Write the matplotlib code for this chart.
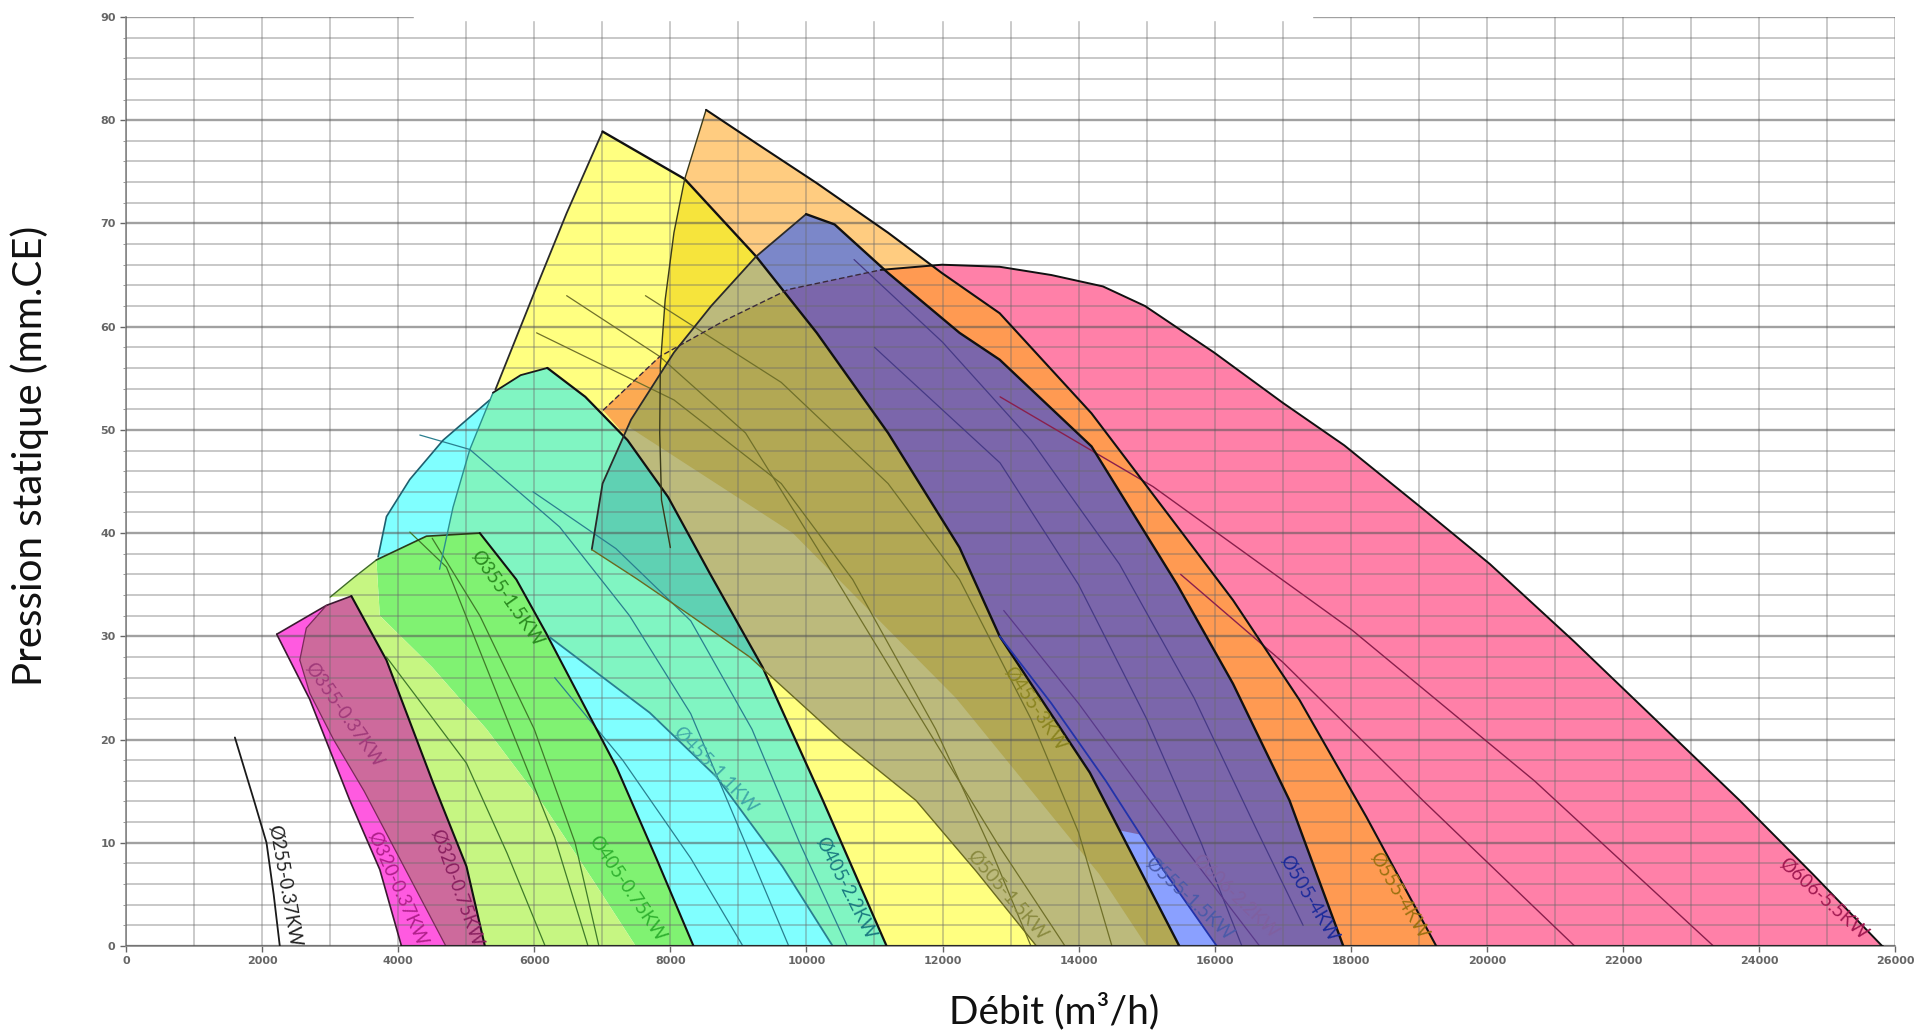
import numpy as np
import matplotlib.pyplot as plt
from matplotlib.patches import Rectangle

plt.rcParams['font.family'] = ['Lato', 'DejaVu Sans']

# --- courbes ventilateurs : (débit m3/h, pression mm.CE) ---
d255 = [(1600, 20.2), (1890, 13.9), (2065, 10.0), (2170, 5.0), (2260, 0)]

mag_left = [(4048, 0), (3730, 7.4), (3289, 14.1), (2700, 23.9), (2215, 30.2)]
mag_top = [(2215, 30.2), (2946, 33.0), (3312, 33.9)]
m075_right = [(3312, 33.9), (3827, 27.7), (4513, 15.8), (5004, 7.7), (5274, 0)]
mauve_left = [(4700, 0), (4300, 5), (3900, 10), (3500, 15), (3050, 20),
              (2700, 24.5), (2554, 27.7), (2650, 30.8), (2946, 33.0)]

yg_top = [(3000, 33.8), (3350, 35.7), (3680, 37.4)]
gl_low = [(3730, 32.0), (4500, 27), (5300, 21), (6100, 14), (6850, 6.5), (7490, 0)]
gr_top = [(3680, 37.4), (4415, 39.7), (5200, 40.0)]
gr_right = [(5200, 40.0), (5737, 35.5), (6175, 30.3), (7210, 17.3), (7800, 8.4), (8340, 0)]

cy_arc = [(3705, 37.7), (3828, 41.6), (4171, 45.2), (4660, 49.0), (5346, 52.9)]
cy_hidden = [(5900, 54.6), (6150, 50.0)]
cy_low = [(8000, 0), (5000, 30)]
l11 = [(6230, 29.9), (7697, 22.6), (8676, 16.4), (9648, 7.7), (10386, 0)]

aq_left = [(4608, 36.5), (4806, 42.5), (5053, 48.1), (5393, 53.6)]
aq_top = [(5393, 53.6), (5800, 55.3), (6192, 56.0)]
aq_right = [(6192, 56.0), (6750, 53.2), (7371, 49.0), (7966, 43.5), (8580, 36.1),
            (9356, 27.0), (10242, 14.1), (11178, 0)]
aq_hidden = [(5700, 33.0)]

ye_left = [(5429, 53.9), (6000, 63.3), (6476, 71.0), (7004, 78.9)]
ye_right = [(7004, 78.9), (8211, 74.3), (9261, 66.8), (10152, 59.4),
            (11200, 49.7), (12250, 38.6), (12840, 30.0), (14165, 16.8), (15480, 0)]
ye_hidden = [(10500, 0), (10000, 5), (9000, 15), (8000, 25), (7000, 35), (6000, 45)]

or_left = [(8525, 81.0), (8211, 74.3), (8053, 69.1), (7924, 62.6), (7853, 56.2),
           (7844, 49.7), (7870, 43.2), (8000, 38.6)]
or_hidden = [(9500, 30), (11000, 20), (13500, 0)]
or_right = [(8525, 81.0), (9300, 77.6), (10152, 73.9), (11200, 69.1), (11990, 65.2),
            (12840, 61.3), (14190, 51.6), (15490, 40.3), (16270, 33.5), (17250, 23.8),
            (18230, 12.5), (19256, 0)]

pu_left = [(9995, 70.9), (9261, 66.8), (8600, 62.0), (8053, 57.5), (7423, 51.0),
           (7004, 44.8), (6845, 38.4)]
pu_low = [(6845, 38.4), (7500, 35.6), (8300, 32.0), (9166, 28.0), (10500, 20.0),
          (11610, 14.1), (12500, 7.2), (13380, 0)]
pu_right = [(9995, 70.9), (10414, 69.9), (11200, 65.2), (12250, 59.4), (12840, 56.8),
            (14190, 48.4), (15450, 35.0), (16270, 25.4), (17100, 14.1), (17890, 0)]

lb_zone = [(14600, 11.2), (15480, 0), (16030, 0), (15200, 7.8), (14900, 10.8)]
bl_line = [(12840, 30.0), (13600, 23.5), (14400, 16.0), (15200, 7.8), (16030, 0)]
l606_22 = [(12900, 32.5), (14000, 23.5), (15500, 10.0), (16660, 0)]

pk_top = [(7011, 51.9), (7844, 57.1), (8800, 60.6), (9733, 63.6), (11095, 65.5),
          (11990, 66.0), (12840, 65.8), (13600, 65.0), (14357, 63.9), (14976, 62.0),
          (15990, 57.5), (17006, 52.6), (17905, 48.5), (19030, 42.5), (20045, 37.0),
          (21282, 29.5), (22500, 21.8), (23716, 14.1), (24800, 6.9), (25810, 0)]
pk_hidden = [(15000, 0), (14300, 7), (12200, 24), (9800, 40)]
# petite pointe jaune/rose au-dessus de l'arc violet
sliver = [(7011, 51.9), (7844, 57.1), (8250, 59.2), (8053, 57.5), (7423, 51.0), (7330, 49.5)]

# courbes intermédiaires
green_lines = [
    [(3827, 28.0), (4400, 23), (5004, 17.7), (5600, 9), (6160, 0)],
    [(4171, 40.1), (4710, 36.7), (5490, 23.8), (6300, 10.5), (6790, 0)],
    [(4500, 39.5), (5200, 32), (6000, 21), (6600, 10), (6950, 0)],
]
cyan_lines = [
    [(4318, 49.5), (5053, 48.1), (6372, 40.6), (7400, 32), (8300, 22.5), (9100, 10), (9740, 0)],
    [(5982, 44.0), (7200, 38.5), (8300, 31.5), (9200, 21), (9900, 10), (10600, 0)],
    [(6300, 26), (7300, 18), (8300, 8.5), (9066, 0)],
]
olive_lines = [
    [(6476, 63.0), (7846, 57.1), (9105, 49.7), (10152, 38.6), (11500, 24.0), (12800, 10.0), (13800, 0)],
    [(6034, 59.4), (8053, 52.9), (9630, 44.8), (10680, 35.5), (11900, 21.0), (12700, 9.5), (13300, 0)],
    [(7634, 63.0), (9630, 54.6), (11200, 44.8), (12250, 35.5), (13300, 22.0), (14000, 11.0), (14490, 0)],
]
purple_lines = [
    [(10700, 66.5), (12000, 58.5), (13300, 49), (14600, 37), (15700, 24), (16600, 11.5), (17300, 2)],
    [(11000, 58), (12846, 46.8), (14000, 35), (15000, 22), (15800, 10), (16400, 0)],
]
pink_lines = [
    [(12846, 53.2), (15095, 44.5), (18020, 30.6), (20700, 16), (23330, 0)],
    [(15500, 36), (17000, 27.5), (19060, 14.1), (21290, 0)],
]

labels = [
    ('Ø255-0.37KW', 2325, 5.8, -80, '#222222'),
    ('Ø320-0.37KW', 3981, 5.6, -66, '#b0208a'),
    ('Ø320-0.75KW', 4862, 5.6, -70, '#8a2060'),
    ('Ø355-0.37KW', 3196, 22.4, -55, '#a03a7a'),
    ('Ø355-1.5KW', 5597, 33.7, -55, '#2a8a20'),
    ('Ø405-0.75KW', 7361, 5.6, -56, '#30b030'),
    ('Ø455-1.1KW', 8658, 17.0, -46, '#40a8a8'),
    ('Ø405-2.2KW', 10569, 5.6, -63, '#1a7a80'),
    ('Ø505-1.5KW', 12945, 4.9, -49, '#8a8a40'),
    ('Ø455-3KW', 13350, 23.0, -56, '#8a8420'),
    ('Ø555-1.5KW', 15614, 4.6, -43, '#4a5aa8'),
    ('Ø606-2.2KW', 16300, 4.8, -44, '#8060a0'),
    ('Ø505-4KW', 17377, 4.6, -59, '#1a2a9a'),
    ('Ø555-4KW', 18700, 4.9, -59, '#9a7010'),
    ('Ø606-5.5KW', 24945, 4.6, -42, '#a01850'),
]


def pts(seq):
    return [p[0] for p in seq], [p[1] for p in seq]


fig = plt.figure(figsize=(19.21, 10.35), dpi=100)
ax = fig.add_axes([0.0656, 0.086, 0.9209, 0.8976])


def region(seq, color, z, clip=None):
    xs, ys = pts(seq)
    p = ax.fill(xs, ys, color=color, lw=0, zorder=z)[0]
    if clip is not None:
        p.set_clip_path(clip)
    return p


def edge(seq, color='#1a1a1a', lw=1.4, ls='-', z=6):
    xs, ys = pts(seq)
    ax.plot(xs, ys, color=color, lw=lw, ls=ls, zorder=z, solid_capstyle='round')


pink_poly = pk_top + pk_hidden
orange_poly = or_left + or_hidden + or_right[::-1]
yellow_poly = ye_left + ye_right[1:] + ye_hidden
cyan_poly = cy_arc + cy_hidden + l11 + cy_low
aqua_poly = aq_left + aq_top[1:] + aq_right[1:] + l11[::-1] + aq_hidden
green_poly = [gl_low[0]] + gr_top + gr_right + gl_low[::-1]
yg_poly = yg_top + gl_low + m075_right[::-1]
mag_poly = mag_left + mag_top[1:] + m075_right[1:]
mauve_poly = mauve_left + mag_top[2:] + m075_right[1:]
purple_poly = pu_left + pu_low[1:] + pu_right[::-1]

pink = region(pink_poly, '#ff80a8', 1.0)
orange = region(orange_poly, '#ffcc80', 1.1)
region(orange_poly, '#ff9a52', 1.2, clip=pink)
yellow = region(yellow_poly, '#ffff80', 1.3)
region(pink_poly, '#fcaa52', 1.4, clip=yellow)
region(orange_poly, '#f6e43c', 1.5, clip=yellow)
region(cyan_poly, '#80ffff', 1.6)
aqua = region(aqua_poly, '#80f5c2', 1.7)
region(green_poly, '#80f272', 1.8)
region(yg_poly, '#c6f682', 1.9)
region(mag_poly, '#ff5ae0', 2.0)
region(mauve_poly, '#cd6a9c', 2.1)
region(purple_poly, '#7b87c9', 2.2)
region(purple_poly, '#7b66ab', 2.3, clip=pink)
region(purple_poly, '#bcba7c', 2.4, clip=yellow)
region(pink_poly, '#b2a854', 2.45, clip=yellow)
region(sliver, '#fcaa52', 2.46, clip=yellow)
region(sliver, '#f6e43c', 2.47, clip=orange)
region(purple_poly, '#5fd1b3', 2.5, clip=aqua)
region(lb_zone, '#8aa0ff', 2.6)

# quadrillage
for gx in range(0, 26001, 1000):
    ax.axvline(gx, color='#6a6a6a', lw=1.2, alpha=0.42, zorder=4)
for gy in range(0, 91, 2):
    if gy % 10 == 0:
        ax.axhline(gy, color='#555555', lw=1.7, alpha=0.55, zorder=4)
    else:
        ax.axhline(gy, color='#6a6a6a', lw=1.3, alpha=0.40, zorder=4)

for ln in green_lines:
    edge(ln, '#3f7a2a', 0.9, z=5)
for ln in cyan_lines:
    edge(ln, '#2a7f8f', 0.9, z=5)
for ln in olive_lines:
    edge(ln, '#70702a', 0.9, z=5)
for ln in purple_lines:
    edge(ln, '#463a86', 0.9, z=5)
for ln in pink_lines:
    edge(ln, '#8a1f4c', 1.0, z=5)

# contours
edge(d255, '#1a1a1a', 1.3)
edge(mag_left, '#3a1a30', 1.2)
edge(mag_top, '#3a1a30', 1.2)
edge(mauve_left, '#7a2a5a', 0.9)
edge(m075_right, '#111111', 1.5)
edge(yg_top, '#3f6a2a', 1.0)
edge(gr_top, '#2a3a1a', 1.2)
edge(gr_right, '#111111', 1.5)
edge(cy_arc, '#1f5f6f', 1.2)
edge(l11, '#2a7f8f', 1.3)
edge(aq_left, '#2a8f8f', 1.0)
edge(aq_top, '#1a1a1a', 1.3)
edge(aq_right, '#111111', 1.6)
edge(ye_left, '#2a2a2a', 1.3)
edge(ye_right, '#111111', 1.7)
edge(or_left, '#3a3a1a', 1.0)
edge(or_right, '#111111', 1.5)
edge(pu_left, '#2a2a2a', 1.3)
edge(pu_low, '#6a6a20', 1.0)
edge(pu_right, '#111111', 1.7)
edge(bl_line, '#2233aa', 1.3)
edge(l606_22, '#5a3a8a', 0.9)
edge(pk_top[:5], '#3a2a3a', 1.0, ls=(0, (4, 2)))
edge(pk_top[4:], '#111111', 1.4)
ax.plot([mag_left[0][0], pk_top[-1][0]], [0, 0], color='#111111', lw=1.8, zorder=6)

for txt, lx, ly, rot, col in labels:
    ax.text(lx, ly, txt, rotation=rot, rotation_mode='anchor', ha='center', va='center',
            fontsize=13.5, color=col, zorder=7)

ax.set_xlim(0, 26000)
ax.set_ylim(0, 90)
ax.set_xticks(range(0, 26001, 2000))
ax.set_yticks(range(0, 91, 10))
ax.set_yticks(range(0, 91, 2), minor=True)
ax.tick_params(axis='both', labelsize=8, colors='#666666', length=4, width=1)
ax.tick_params(axis='y', which='minor', length=2, color='#888888')
for lab in ax.get_xticklabels() + ax.get_yticklabels():
    lab.set_family('DejaVu Sans')
    lab.set_fontweight('bold')
for s in ['top', 'right']:
    ax.spines[s].set_visible(False)
for s in ['left', 'bottom']:
    ax.spines[s].set_color('#888888')
    ax.spines[s].set_linewidth(1.2)

ax.set_ylabel('Pression statique (mm.CE)', fontsize=29, color='#111111')
ax.set_xlabel('Débit (m³/h)', fontsize=28, color='#111111')
ax.yaxis.set_label_coords(-0.0435, 0.527)
ax.xaxis.set_label_coords(0.5246, -0.050)

# bandeau blanc du titre coupé
fig.add_artist(Rectangle((414 / 1921, 1 - 20 / 1035), (1312 - 414) / 1921, 20 / 1035,
                         transform=fig.transFigure, color='white', zorder=100))

fig.savefig('out.png', dpi=100)
